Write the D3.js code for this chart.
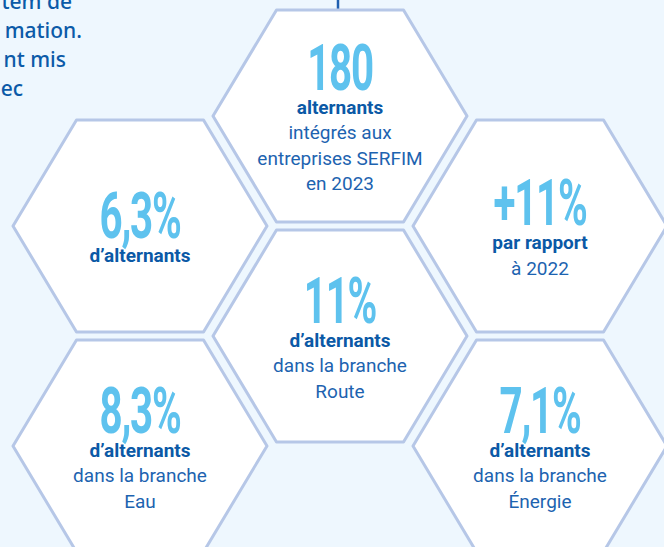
<!DOCTYPE html>
<html lang="fr">
<head>
<meta charset="utf-8">
<script src="https://cdn.jsdelivr.net/npm/d3@7"></script>
<style>
  body { margin: 0; background: #eef7fe; }
  svg { display: block; }
</style>
</head>
<body>
<div id="chart"></div>
<script>
// Chiffres clés des alternants
var valeurs = ["180", "6,3%", "+11%", "11%", "8,3%", "7,1%"];
var libellesGras = ["alternants", "d’alternants", "par rapport", "d’alternants", "d’alternants", "d’alternants"];
var libellesTexte = [
  ["intégrés aux", "entreprises SERFIM", "en 2023"],
  [],
  ["à 2022"],
  ["dans la branche", "Route"],
  ["dans la branche", "Eau"],
  ["dans la branche", "Énergie"]
];
// position dans la grille en nid d'abeille
var colonnes = ["centre", "gauche", "droite", "centre", "gauche", "droite"];
var rangees = [0, 1, 1, 2, 3, 3];

// fragments du paragraphe coupé en haut à gauche
var intro = ["tem de", "mation.", "nt mis", "ec"];

var width = 664, height = 547;

var svg = d3.select("#chart").append("svg")
    .attr("width", width)
    .attr("height", height);

svg.append("rect")
    .attr("width", width).attr("height", height)
    .attr("fill", "#eef7fe");

// Echelles de la grille
var x = d3.scalePoint()
    .domain(["gauche", "centre", "droite"])
    .range([140, 540]);

var y = d3.scaleLinear()
    .domain([0, 1])
    .range([116, 226]);

var R = 127, hh = 106;

function hexagone(cx, cy) {
  var pts = [
    [cx - R, cy], [cx - R / 2, cy - hh], [cx + R / 2, cy - hh],
    [cx + R, cy], [cx + R / 2, cy + hh], [cx - R / 2, cy + hh]
  ];
  return "M" + pts.map(function(p) { return p.join(","); }).join("L") + "Z";
}

// paragraphe coupé
svg.append("g").selectAll("text")
  .data(intro)
  .enter().append("text")
    .attr("x", function(d, i) { return [72, 82, 66, 23][i]; })
    .attr("y", function(d, i) { return 9 + i * 29; })
    .attr("text-anchor", "end")
    .attr("font-family", "'Noto Sans', sans-serif")
    .attr("font-weight", 500)
    .attr("font-size", "21px")
    .attr("fill", "#0b5aa8")
    .text(function(d) { return d; });

// trait vertical au-dessus
svg.append("line")
    .attr("x1", x("centre") - 2).attr("x2", x("centre") - 2)
    .attr("y1", 0).attr("y2", y(0) - hh - 1)
    .attr("stroke", "#1f5fb0")
    .attr("stroke-width", 2.5);

var data = valeurs.map(function(v, i) {
  return {
    valeur: v,
    gras: libellesGras[i],
    lignes: libellesTexte[i],
    cx: x(colonnes[i]),
    cy: y(rangees[i])
  };
});

var cellules = svg.selectAll(".cellule")
  .data(data)
  .enter().append("g")
    .attr("class", "cellule");

cellules.append("path")
    .attr("d", function(d) { return hexagone(d.cx, d.cy); })
    .attr("fill", "#ffffff")
    .attr("stroke", "#b6c7e7")
    .attr("stroke-width", 3)
    .attr("stroke-linejoin", "round");

var capHaut = 46, ecart = 24, interligne = 25.5;

cellules.each(function(d) {
  var g = d3.select(this);
  var n = 1 + d.lignes.length;
  var H = capHaut + ecart + (n - 1) * interligne;
  var base = d.cy + 1 - H / 2 + capHaut;

  g.append("g")
      .attr("transform", "translate(" + d.cx + "," + base + ") scale(0.63,1)")
    .append("text")
      .attr("text-anchor", "middle")
      .attr("font-family", "Roboto, sans-serif")
      .attr("font-weight", 700)
      .attr("font-size", "64px")
      .attr("letter-spacing", "-2px")
      .attr("fill", "#5ec2ee")
      .text(d.valeur);

  g.append("text")
      .attr("x", d.cx)
      .attr("y", base + ecart)
      .attr("text-anchor", "middle")
      .attr("font-family", "Roboto, sans-serif")
      .attr("font-weight", 700)
      .attr("font-size", "19px")
      .attr("fill", "#0b59a6")
      .text(d.gras);

  g.selectAll(".ligne")
    .data(d.lignes)
    .enter().append("text")
      .attr("class", "ligne")
      .attr("x", d.cx)
      .attr("y", function(l, j) { return base + ecart + (j + 1) * interligne; })
      .attr("text-anchor", "middle")
      .attr("font-family", "Roboto, sans-serif")
      .attr("font-weight", 400)
      .attr("font-size", "19px")
      .attr("fill", "#1d63b0")
      .text(function(l) { return l; });
});
</script>
</body>
</html>
